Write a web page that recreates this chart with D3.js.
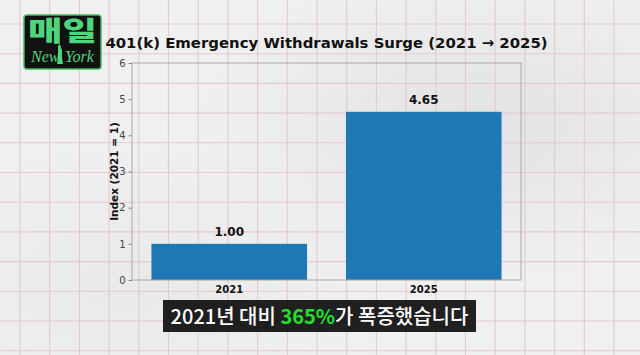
<!DOCTYPE html>
<html><head><meta charset="utf-8">
<script src="https://cdn.jsdelivr.net/npm/d3@7"></script>
<style>
html,body{margin:0;padding:0;background:#eeeeee;}
svg{display:block;}
</style></head>
<body>
<svg id="c" width="640" height="355"></svg>
<script>
const categories = ["2021", "2025"];
const values = [1.00, 4.65];
const valueLabels = ["1.00", "4.65"];
const yTicks = [0, 1, 2, 3, 4, 5, 6];
const title = "401(k) Emergency Withdrawals Surge (2021 \u2192 2025)";
const yLabel = "Index (2021 = 1)";
const captionParts = [["2021년 대비 ", "#ffffff", 500], ["365%", "#22e02a", 700], ["가 폭증했습니다", "#ffffff", 500]];

const W = 640, H = 355;
const svg = d3.select("#c");

// paper background
const defs = svg.append("defs");
const g1 = defs.append("radialGradient").attr("id","m1").attr("cx","0.75").attr("cy","0.35").attr("r","0.45");
g1.append("stop").attr("offset","0").attr("stop-color","#dadada").attr("stop-opacity",0.6);
g1.append("stop").attr("offset","1").attr("stop-color","#dadada").attr("stop-opacity",0);
const g2 = defs.append("radialGradient").attr("id","m2").attr("cx","0.2").attr("cy","0.8").attr("r","0.4");
g2.append("stop").attr("offset","0").attr("stop-color","#e2e2e2").attr("stop-opacity",0.5);
g2.append("stop").attr("offset","1").attr("stop-color","#e2e2e2").attr("stop-opacity",0);
svg.append("rect").attr("width",W).attr("height",H).attr("fill","#f0f0f0");
svg.append("rect").attr("width",W).attr("height",H).attr("fill","url(#m1)");
svg.append("rect").attr("width",W).attr("height",H).attr("fill","url(#m2)");

// pink grid
const step = 29.7;
const gridG = svg.append("g").attr("stroke","#e5c8d2").attr("stroke-width",1.1);
d3.range(20 - step, W + step, step).forEach(x => gridG.append("line").attr("x1",x).attr("x2",x).attr("y1",0).attr("y2",H));
d3.range(24 - step, H + step, step).forEach(y => gridG.append("line").attr("y1",y).attr("y2",y).attr("x1",0).attr("x2",W));

// axes
const L = 132, R = 521, T = 63, B = 280;
const x = d3.scaleBand().domain(categories).range([L, R]).paddingInner(0.2).paddingOuter(0.1);
const y = d3.scaleLinear().domain([0, 6]).range([B, T]);

svg.append("g").selectAll("rect").data(values).join("rect")
  .attr("x",(d,i)=>x(categories[i]))
  .attr("width",x.bandwidth())
  .attr("y",d=>y(d))
  .attr("height",d=>y(0)-y(d))
  .attr("fill","#1f77b4");

// frame
svg.append("rect").attr("x",L).attr("y",T).attr("width",R-L).attr("height",B-T)
  .attr("fill","none").attr("stroke","#a8a8a8").attr("stroke-width",1);

// y axis
const yAxis = d3.axisLeft(y).tickValues(yTicks).tickSize(3.5).tickPadding(3).tickFormat(d3.format("d"));
const ya = svg.append("g").attr("transform",`translate(${L},0)`).call(yAxis);
ya.select(".domain").remove();
ya.selectAll("line").attr("stroke","#888");
ya.selectAll("text").attr("font-family","DejaVu Sans").attr("font-size",10).attr("fill","#444");

// x axis
const xAxis = d3.axisBottom(x).tickSize(0).tickPadding(6);
const xa = svg.append("g").attr("transform",`translate(0,${B})`).call(xAxis);
xa.select(".domain").remove();
xa.selectAll("text").attr("font-family","DejaVu Sans").attr("font-weight","bold").attr("font-size",10).attr("fill","#111");

// value labels
svg.append("g").selectAll("text").data(values).join("text")
  .attr("x",(d,i)=>x(categories[i]) + x.bandwidth()/2)
  .attr("y",d=>y(d) - 8)
  .attr("text-anchor","middle")
  .attr("font-family","DejaVu Sans").attr("font-weight","bold").attr("font-size",12).attr("fill","#111")
  .text((d,i)=>valueLabels[i]);

// title
svg.append("text").attr("x",(L+R)/2).attr("y",48).attr("text-anchor","middle")
  .attr("font-family","DejaVu Sans").attr("font-weight","bold").attr("font-size",14.9).attr("fill","#111")
  .text(title);

// y label
svg.append("text").attr("transform",`translate(118,${(T+B)/2}) rotate(-90)`).attr("text-anchor","middle")
  .attr("font-family","DejaVu Sans").attr("font-weight","bold").attr("font-size",10.5).attr("fill","#111")
  .text(yLabel);

// caption box
svg.append("rect").attr("x",163).attr("y",300).attr("width",313).attr("height",32).attr("fill","#141414").attr("opacity",0.95);
const cap = svg.append("text").attr("x",319.5).attr("y",323.5).attr("text-anchor","middle")
  .attr("font-family","Noto Sans CJK KR").attr("font-size",20);
captionParts.forEach(([t,c,w]) => cap.append("tspan").attr("fill",c).attr("font-weight",w).text(t));

// logo
const logo = svg.append("g");
logo.append("rect").attr("x",24).attr("y",15).attr("width",77).attr("height",54).attr("rx",3)
  .attr("fill","#111").attr("stroke","#3fb865").attr("stroke-width",1.5);
logo.append("text").attr("x",28).attr("y",41).attr("textLength",69).attr("lengthAdjust","spacingAndGlyphs")
  .attr("font-family","Noto Sans CJK KR").attr("font-weight",900).attr("font-size",27).attr("fill","#4fd67d")
  .text("매일");
logo.append("text").attr("x",31).attr("y",62).attr("font-family","Liberation Serif").attr("font-style","italic")
  .attr("font-size",16).attr("fill","#4fd67d").text("New");
logo.append("text").attr("x",65).attr("y",62).attr("font-family","Liberation Serif").attr("font-style","italic")
  .attr("font-size",16).attr("fill","#4fd67d").text("York");
logo.append("path").attr("d","M58,46 L60,44 L61,48 L62,50 L62,58 L63,64 L57,64 L58,58 L58,50 Z").attr("fill","#4fd67d");
</script>
</body></html>
